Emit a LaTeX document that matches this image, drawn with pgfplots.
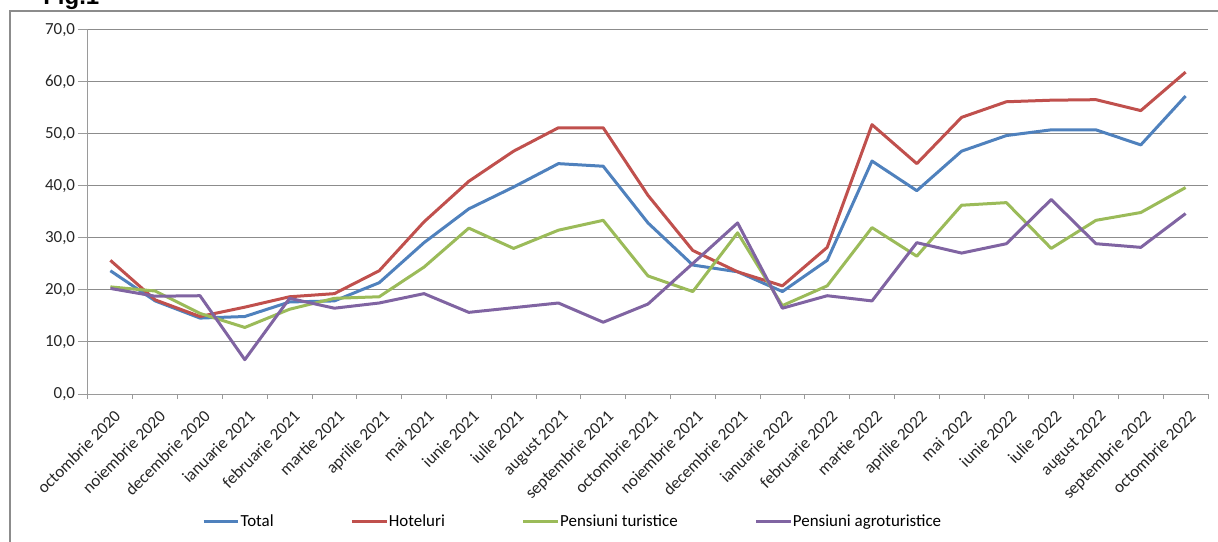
\documentclass[border=0pt]{standalone}
\usepackage{fontspec}
\setmainfont{Carlito}
\newfontfamily\arialfont{Liberation Sans}
\usepackage{pgfplots}
\usepackage{pgfplotstable}
\pgfplotsset{compat=1.18}
\definecolor{cTotal}{HTML}{4F81BD}
\definecolor{cHot}{HTML}{C0504D}
\definecolor{cTur}{HTML}{9BBB59}
\definecolor{cAgro}{HTML}{8064A2}
\definecolor{gridc}{HTML}{8C8C8C}
\definecolor{axc}{HTML}{9A9A9A}
\pgfplotstableread{
x total hotel tur agro
0.5 23.7 25.7 20.6 20.3
1.5 17.9 18.1 19.8 18.8
2.5 14.6 14.9 15.5 18.9
3.5 14.9 16.7 12.8 6.6
4.5 17.7 18.7 16.3 18.4
5.5 17.9 19.3 18.4 16.5
6.5 21.4 23.7 18.7 17.5
7.5 29.1 33.1 24.4 19.3
8.5 35.6 40.9 31.9 15.7
9.5 39.8 46.7 28.0 16.6
10.5 44.3 51.2 31.5 17.5
11.5 43.8 51.2 33.4 13.8
12.5 32.9 38.2 22.7 17.3
13.5 24.8 27.6 19.7 25.1
14.5 23.5 23.5 31.0 32.9
15.5 19.7 20.8 17.0 16.5
16.5 25.7 28.2 20.8 18.9
17.5 44.8 51.8 32.0 17.9
18.5 39.1 44.3 26.5 29.1
19.5 46.7 53.2 36.3 27.1
20.5 49.7 56.2 36.8 28.9
21.5 50.8 56.5 28.0 37.4
22.5 50.8 56.6 33.4 28.9
23.5 47.9 54.5 34.9 28.2
24.5 57.3 61.9 39.7 34.7
}\data
\begin{document}
\begin{tikzpicture}
\useasboundingbox (-66pt,-111pt) rectangle (847.5pt,295.5pt);
\draw[color=gridc, line width=1.1pt] (900pt,287.25pt) -- (-58.5pt,287.25pt) -- (-58.5pt,-150pt);
\node[anchor=base west, inner sep=0pt, font=\arialfont\bfseries\fontsize{18}{20}\selectfont] at (-33.75pt,292.1pt) {Fig.1};
\begin{axis}[
  at={(0pt,0pt)}, anchor=south west,
  scale only axis, width=840pt, height=273pt,
  xmin=0, xmax=25, ymin=0, ymax=70,
  axis x line*=bottom, axis y line*=left,
  axis line style={-, draw=axc, line width=0.75pt},
  xtick={0.5,1.5,...,24.5},
  xticklabels={octombrie 2020,noiembrie 2020,decembrie 2020,ianuarie 2021,februarie 2021,martie 2021,aprilie 2021,mai 2021,iunie 2021,iulie 2021,august 2021,septembrie 2021,octombrie 2021,noiembrie 2021,decembrie 2021,ianuarie 2022,februarie 2022,martie 2022,aprilie 2022,mai 2022,iunie 2022,iulie 2022,august 2022,septembrie 2022,octombrie 2022},
  minor xtick={0,1,...,25},
  major x tick style={draw=none},
  minor x tick style={draw=axc, line width=0.75pt},
  ytick={0,10,...,70},
  y tick style={draw=axc, line width=0.75pt},
  tick align=outside,
  major tick length=7.5pt,
  minor tick length=3.75pt,
  ymajorgrids,
  grid style={draw=gridc, line width=0.75pt},
  yticklabel={\pgfmathprintnumber[fixed,fixed zerofill,precision=1,use comma]{\tick}},
  /pgf/number format/assume math mode=true,
  ticklabel style={font=\fontsize{12.7}{15}\selectfont, text=black!85},
  xticklabel style={rotate=45, anchor=north east, inner sep=1pt, yshift=-3pt},
  yticklabel style={inner sep=1pt, xshift=-1pt},
  legend columns=4,
  legend style={at={(rel axis cs:0.1016,-0.351)}, anchor=west, draw=none, fill=none,
    font=\fontsize{12.7}{15}\selectfont, inner sep=0pt,
    nodes={inner xsep=0.6pt, inner ysep=1pt},
    /tikz/every even column/.append style={column sep=57pt}},
  legend image code/.code={\draw[#1, line width=2.25pt] (0pt,0pt) -- (26pt,0pt);},
  every axis plot/.append style={line width=2.25pt, line join=round},
]
\addplot[cTotal] table[x=x, y=total] {\data};
\addlegendentry{Total}
\addplot[cHot] table[x=x, y=hotel] {\data};
\addlegendentry{Hoteluri}
\addplot[cTur] table[x=x, y=tur] {\data};
\addlegendentry{Pensiuni turistice}
\addplot[cAgro] table[x=x, y=agro] {\data};
\addlegendentry{Pensiuni agroturistice}
\end{axis}
\end{tikzpicture}
\end{document}
